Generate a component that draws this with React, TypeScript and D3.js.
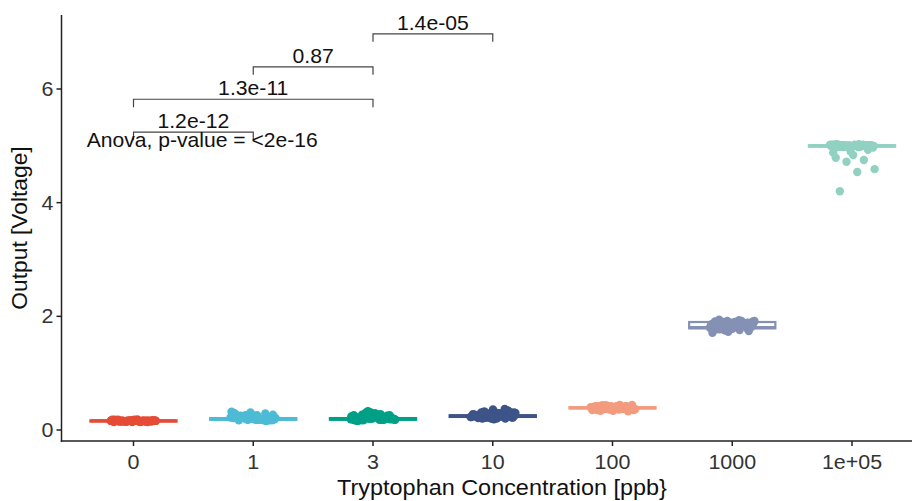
import React from "react";
import * as d3 from "d3";

const categories = ["0", "1", "3", "10", "100", "1000", "1e+05"];
const colors = ["#E64B35", "#4DBBD5", "#00A087", "#3C5488", "#F39B7F", "#8491B4", "#91D1C2"];

const values0 = [0.16,0.15,0.17,0.16,0.14,0.18,0.16,0.15,0.17,0.16,0.15,0.17,0.16,0.18,0.14,0.16,0.15,0.17,0.16,0.16,0.15,0.17,0.18,0.15,0.16,0.17,0.14,0.16,0.15,0.17,0.16,0.18,0.15,0.16,0.17,0.16,0.15,0.16,0.17,0.16,0.17,0.15,0.16,0.18,0.16,0.14,0.17,0.16,0.15,0.16,0.17,0.18,0.16,0.15,0.17,0.16];
const values1 = [0.19,0.21,0.18,0.25,0.17,0.22,0.30,0.19,0.20,0.27,0.18,0.23,0.16,0.21,0.32,0.19,0.24,0.18,0.20,0.28,0.17,0.22,0.19,0.26,0.20,0.18,0.31,0.21,0.19,0.23,0.17,0.25,0.20,0.29,0.18,0.22,0.19,0.24,0.21,0.20,0.22,0.18,0.26,0.19,0.21,0.17,0.24,0.20,0.28,0.19,0.23,0.18,0.21,0.25,0.20,0.19];
const values3 = [0.18,0.22,0.19,0.27,0.17,0.20,0.31,0.19,0.24,0.18,0.21,0.29,0.16,0.20,0.33,0.19,0.23,0.18,0.26,0.20,0.17,0.21,0.30,0.19,0.22,0.18,0.25,0.20,0.19,0.28,0.17,0.21,0.24,0.19,0.20,0.32,0.18,0.22,0.19,0.23,0.20,0.26,0.18,0.21,0.19,0.29,0.17,0.22,0.20,0.24,0.18,0.27,0.19,0.21,0.23,0.20];
const values10 = [0.24,0.27,0.22,0.31,0.20,0.26,0.35,0.23,0.25,0.29,0.21,0.28,0.19,0.24,0.37,0.23,0.30,0.22,0.26,0.33,0.20,0.25,0.24,0.32,0.22,0.27,0.21,0.34,0.25,0.23,0.29,0.20,0.26,0.36,0.24,0.28,0.22,0.25,0.30,0.23,0.26,0.21,0.28,0.24,0.32,0.22,0.27,0.25,0.20,0.29,0.23,0.26,0.31,0.24,0.22,0.27];
const values100 = [0.39,0.41,0.37,0.43,0.35,0.40,0.38,0.42,0.36,0.39,0.44,0.37,0.40,0.34,0.41,0.38,0.43,0.36,0.39,0.42,0.33,0.40,0.38,0.41,0.37,0.44,0.39,0.35,0.42,0.38,0.40,0.36,0.43,0.39,0.37,0.41,0.38,0.40,0.36,0.42,0.39,0.37,0.41,0.35,0.40,0.43,0.38,0.36,0.42,0.39,0.41,0.37,0.40,0.34,0.38,0.42];
const values1000 = [1.82,1.88,1.79,1.92,1.76,1.85,1.90,1.81,1.87,1.73,1.84,1.93,1.80,1.86,1.78,1.91,1.83,1.75,1.89,1.82,1.94,1.79,1.86,1.71,1.84,1.90,1.81,1.88,1.77,1.85,1.92,1.80,1.87,1.83,1.74,1.89,1.82,1.86,1.79,1.91,1.84,1.78,1.88,1.81,1.86,1.76,1.90,1.83,1.80,1.87,1.85,1.79,1.92,1.82,1.77,1.89];
const values1e5 = [5.00,5.01,4.99,5.02,5.00,4.98,5.01,5.00,5.03,4.99,5.00,5.02,4.98,5.01,5.00,4.99,5.02,5.00,5.01,4.97,5.00,5.02,4.99,5.01,5.00,4.98,5.01,5.00,4.84,4.79,4.75,4.72,4.59,4.54,4.20,4.93,4.90,4.88,5.00,5.01,4.99,5.02,5.00,5.01,4.98,5.00,5.03,4.99,5.01,5.00,4.96,5.02,4.99,5.00,5.01,4.98];
const groupValues = [values0, values1, values3, values10, values100, values1000, values1e5];

// box statistics
const boxQ1 = [0.15, 0.18, 0.18, 0.23, 0.38, 1.79, 4.985];
const boxMedian = [0.16, 0.19, 0.19, 0.245, 0.39, 1.80, 5.0];
const boxQ3 = [0.17, 0.21, 0.21, 0.26, 0.40, 1.90, 5.01];

const yTicks = [0, 2, 4, 6];

const compPairs = [["3", "10"], ["1", "3"], ["0", "3"], ["0", "1"]];
const compLabels = ["1.4e-05", "0.87", "1.3e-11", "1.2e-12"];
const compY = [6.97, 6.39, 5.82, 5.24];
const anovaLabel = "Anova, p-value = <2e-16";
const anovaY = 4.98;

const xTitle = "Tryptophan Concentration [ppb}";
const yTitle = "Output [Voltage]";

const W = 912;
const H = 501;
const FONT = "'Liberation Sans', Arial, sans-serif";

function T(props: { x: number; y: number; sx: number; rotate?: number; size: number; anchor?: string; fill: string; dy?: string; children: React.ReactNode }) {
  const { x, y, sx, rotate, size, anchor, fill, dy, children } = props;
  const tr = `translate(${x},${y})` + (rotate ? ` rotate(${rotate})` : "") + ` scale(${sx},1)`;
  return (
    <text transform={tr} fontSize={size} textAnchor={anchor || "start"} fill={fill} dy={dy}>
      {children}
    </text>
  );
}

export default function App() {
  const x = d3.scalePoint<string>().domain(categories).range([133.5, 852]);
  const step = x.step();
  const y = d3.scaleLinear().domain([0, 6]).range([430, 89]);
  const panelLeft = 61.5;
  const panelBottom = 441;
  const panelTop = 15;
  const halfBox = 0.36 * step;
  const jitter = 0.19 * step;
  const tickLen = 0.14;

  return (
    <svg width={W} height={H} style={{ position: "absolute", left: 0, top: 0, background: "#fff" }} fontFamily={FONT}>
      {/* boxes */}
      {categories.map((c, i) => {
        const vals = groupValues[i];
        const q1 = boxQ1[i], q3 = boxQ3[i], iqr = q3 - q1;
        const inside = vals.filter(v => v >= q1 - 1.5 * iqr && v <= q3 + 1.5 * iqr);
        const lo = d3.min(inside) as number;
        const hi = d3.max(inside) as number;
        const cx = x(c) as number;
        return (
          <g key={"box" + c} stroke={colors[i]} fill="none">
            <line x1={cx} x2={cx} y1={y(q3)} y2={y(hi)} strokeWidth={2} />
            <line x1={cx} x2={cx} y1={y(q1)} y2={y(lo)} strokeWidth={2} />
            <rect x={cx - halfBox} y={y(q3)} width={2 * halfBox} height={Math.max(0.01, y(q1) - y(q3))} fill="#fff" strokeWidth={2.2} />
            <line x1={cx - halfBox} x2={cx + halfBox} y1={y(boxMedian[i])} y2={y(boxMedian[i])} strokeWidth={3.2} />
          </g>
        );
      })}
      {/* points */}
      {categories.map((c, i) => {
        const cx = x(c) as number;
        return (
          <g key={"pts" + c} fill={colors[i]}>
            {groupValues[i].map((v, j) => {
              const frac = ((j * 0.6180339887 + i * 0.37) % 1) * 2 - 1;
              return <circle key={j} cx={cx + frac * jitter} cy={y(v)} r={4.2} />;
            })}
          </g>
        );
      })}
      {/* axes */}
      <line x1={panelLeft} x2={panelLeft} y1={panelTop} y2={panelBottom + 0.75} stroke="#222" strokeWidth={1.5} />
      <line x1={panelLeft - 0.75} x2={W} y1={panelBottom} y2={panelBottom} stroke="#222" strokeWidth={1.5} />
      {yTicks.map(t => (
        <g key={"yt" + t}>
          <line x1={panelLeft - 5} x2={panelLeft} y1={y(t)} y2={y(t)} stroke="#222" strokeWidth={1.5} />
          <T x={panelLeft - 8} y={y(t)} dy="0.36em" sx={1.1} anchor="end" size={19.5} fill="#333">{t}</T>
        </g>
      ))}
      {categories.map(c => (
        <g key={"xt" + c}>
          <line x1={x(c)} x2={x(c)} y1={panelBottom} y2={panelBottom + 5} stroke="#222" strokeWidth={1.5} />
          <T x={x(c) as number} y={469} sx={1.1} anchor="middle" size={19.5} fill="#333">{c}</T>
        </g>
      ))}
      <T x={502} y={495} sx={1.09} anchor="middle" size={21.5} fill="#111">{xTitle}</T>
      <T x={27} y={228} rotate={-90} sx={1.06} anchor="middle" size={21.5} fill="#111">{yTitle}</T>
      {/* comparisons */}
      {compPairs.map((p, i) => {
        const x1 = x(p[0]) as number;
        const x2 = x(p[1]) as number;
        const yy = y(compY[i]);
        const yb = y(compY[i] - tickLen);
        return (
          <g key={"cmp" + i}>
            <path d={`M${x1},${yb}V${yy}H${x2}V${yb}`} fill="none" stroke="#444" strokeWidth={1.2} />
            <T x={(x1 + x2) / 2} y={yy - 4} sx={1.06} anchor="middle" size={20} fill="#111">{compLabels[i]}</T>
          </g>
        );
      })}
      <T x={(x("0") as number) - 0.39 * step} y={y(anovaY)} sx={1.055} size={20} fill="#111">{anovaLabel}</T>
    </svg>
  );
}
